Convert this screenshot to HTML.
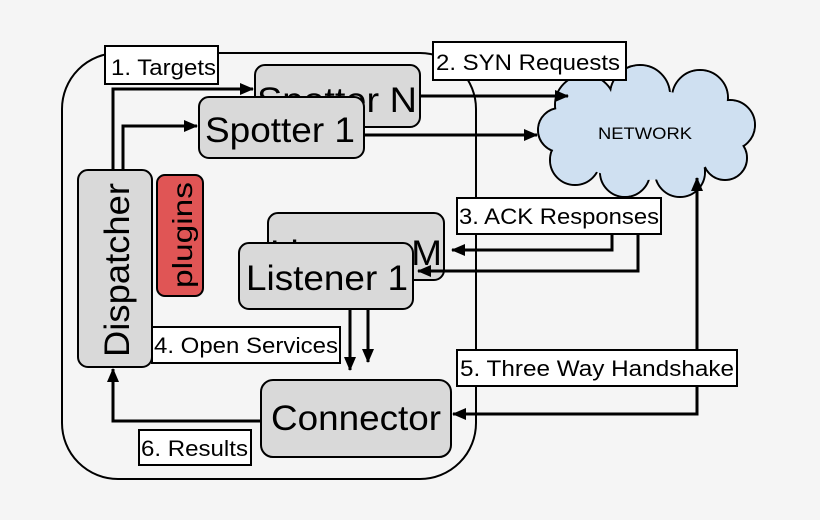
<!DOCTYPE html>
<html><head><style>
html,body{margin:0;padding:0;background:#f5f5f5;}
svg{display:block;font-family:"Liberation Sans",sans-serif;}
</style></head><body>
<svg width="820" height="520" viewBox="0 0 820 520" xmlns="http://www.w3.org/2000/svg">
<defs>
<marker id="b" markerWidth="14" markerHeight="12" refX="13" refY="6" orient="auto" markerUnits="userSpaceOnUse">
<path d="M0,0 L14,6 L0,12 z" fill="#000"/></marker>
</defs>
<rect width="820" height="520" fill="#f5f5f5"/>
<rect x="62" y="53" width="414" height="426" rx="56" fill="none" stroke="#000" stroke-width="2"/>
<!-- cloud -->
<g stroke="#000" stroke-width="2" fill="#cfe0f1">
<circle cx="585" cy="105" r="30"/><circle cx="640" cy="95" r="30"/><circle cx="700" cy="98" r="28"/>
<circle cx="730" cy="125" r="25"/><circle cx="725" cy="158" r="22"/><circle cx="680" cy="172" r="25"/>
<circle cx="625" cy="172" r="25"/><circle cx="575" cy="160" r="25"/><circle cx="560" cy="130" r="22"/>
</g>
<g fill="#cfe0f1">
<circle cx="585" cy="105" r="29"/><circle cx="640" cy="95" r="29"/><circle cx="700" cy="98" r="27"/>
<circle cx="730" cy="125" r="24"/><circle cx="725" cy="158" r="21"/><circle cx="680" cy="172" r="24"/>
<circle cx="625" cy="172" r="24"/><circle cx="575" cy="160" r="24"/><circle cx="560" cy="130" r="21"/>
<ellipse cx="645" cy="135" rx="85" ry="45"/>
</g>
<text x="645" y="139" font-size="17" text-anchor="middle" textLength="94" lengthAdjust="spacingAndGlyphs">NETWORK</text>
<!-- boxes -->
<g stroke="#000" stroke-width="2" fill="#d9d9d9">
<rect x="255" y="65" width="165" height="62" rx="10"/>
</g>
<g font-size="35">
<text x="257" y="112" textLength="160" lengthAdjust="spacingAndGlyphs">Spotter N</text>
</g>
<g stroke="#000" stroke-width="2" fill="#d9d9d9">
<rect x="199" y="97" width="165" height="61" rx="10"/>
<rect x="78" y="170" width="74" height="197" rx="10"/>
<rect x="157" y="175" width="46" height="121" rx="8" fill="#e05555"/>
<rect x="268" y="213" width="176" height="67" rx="10"/>
</g>
<g font-size="35">
<text x="205" y="142" textLength="150" lengthAdjust="spacingAndGlyphs">Spotter 1</text>
<text x="270" y="265" textLength="172" lengthAdjust="spacingAndGlyphs">Listener M</text>
</g>
<g stroke="#000" stroke-width="2" fill="#d9d9d9">
<rect x="239" y="243" width="174" height="66" rx="10"/>
<rect x="261" y="380" width="190" height="77" rx="12"/>
</g>
<g font-size="35">
<text x="246" y="290" textLength="162" lengthAdjust="spacingAndGlyphs">Listener 1</text>
<text x="271" y="430" textLength="170" lengthAdjust="spacingAndGlyphs">Connector</text>
<text transform="translate(129,270) rotate(-90)" text-anchor="middle" textLength="174" lengthAdjust="spacingAndGlyphs">Dispatcher</text>
<text transform="translate(192,235) rotate(-90)" text-anchor="middle" font-size="28" textLength="106" lengthAdjust="spacingAndGlyphs">plugins</text>
</g>
<!-- arrows -->
<g fill="none" stroke="#000" stroke-width="3">
<path d="M113,170 V89 H253" marker-end="url(#b)"/>
<path d="M123,170 V126 H197" marker-end="url(#b)"/>
<path d="M420,96 H568" marker-end="url(#b)"/>
<path d="M364,135 H537" marker-end="url(#b)"/>
<path d="M612,234 V250 H452" marker-end="url(#b)"/>
<path d="M638,234 V271 H418" marker-end="url(#b)"/>
<path d="M350,309 V370" marker-end="url(#b)"/>
<path d="M368,309 V362" marker-end="url(#b)"/>
<path d="M261,421 H113 V369" marker-end="url(#b)"/>
<path d="M697,386 V414 H453" marker-end="url(#b)"/>
<path d="M697,350 V178" marker-end="url(#b)"/>
</g>
<g stroke="#000" stroke-width="2" fill="#fff">
<rect x="105" y="46" width="113" height="38"/>
<rect x="433" y="42" width="193" height="38"/>
<rect x="457" y="198" width="204" height="36"/>
<rect x="152" y="327" width="188" height="36"/>
<rect x="457" y="350" width="280" height="36"/>
<rect x="139" y="430" width="112" height="35"/>
</g>
<g font-size="22" lengthAdjust="spacingAndGlyphs">
<text x="111" y="75" textLength="105" lengthAdjust="spacingAndGlyphs">1. Targets</text>
<text x="436" y="70" textLength="184" lengthAdjust="spacingAndGlyphs">2. SYN Requests</text>
<text x="459" y="224" textLength="200" lengthAdjust="spacingAndGlyphs">3. ACK Responses</text>
<text x="154" y="353" textLength="184" lengthAdjust="spacingAndGlyphs">4. Open Services</text>
<text x="460" y="376" textLength="274" lengthAdjust="spacingAndGlyphs">5. Three Way Handshake</text>
<text x="141" y="456" textLength="107" lengthAdjust="spacingAndGlyphs">6. Results</text>
</g>
</svg>
</body></html>
